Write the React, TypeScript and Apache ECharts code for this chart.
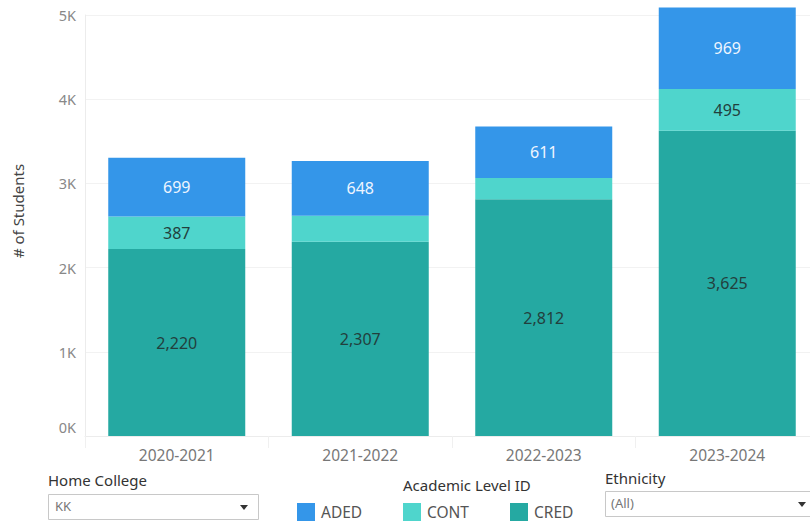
import React, { useEffect, useRef } from "react";
import * as echarts from "echarts";

const categories = ["2020-2021", "2021-2022", "2022-2023", "2023-2024"];
const credValues = [2220, 2307, 2812, 3625];
const contValues = [387, 310, 253, 495];
const adedValues = [699, 648, 611, 969];
const contLabelShown = [true, false, false, true];
const yTicks = [0, 1000, 2000, 3000, 4000, 5000];

const FONT = "'Noto Sans', 'Open Sans', sans-serif";
const fmt = (v: number) => v.toLocaleString("en-US");

export default function App() {
  const ref = useRef<HTMLDivElement>(null);
  useEffect(() => {
    if (!ref.current) return;
    const chart = echarts.init(ref.current, null, { renderer: "svg" });
    const legendItem = (name: string, left: number) => ({
      data: [name],
      left,
      top: 503,
      padding: 0,
      itemWidth: 18,
      itemHeight: 18,
      itemGap: 6,
      icon: "rect",
      selectedMode: false,
      textStyle: { fontFamily: FONT, fontSize: 15.5, color: "#555", padding: [0, 0, 0, 1] },
    });
    const darkLabel = "#223f3d";
    chart.setOption({
      animation: false,
      backgroundColor: "#ffffff",
      textStyle: { fontFamily: FONT },
      grid: { left: 85, top: 15, width: 734, height: 421, containLabel: false },
      legend: [legendItem("ADED", 297), legendItem("CONT", 403), legendItem("CRED", 510)],
      xAxis: {
        type: "category",
        data: categories,
        axisLine: { show: true, lineStyle: { color: "#ececec" } },
        axisTick: { show: true, length: 12, lineStyle: { color: "#f0f0f0" } },
        axisLabel: { fontFamily: FONT, fontSize: 15.5, color: "#777", margin: 11 },
      },
      yAxis: {
        type: "value",
        min: 0,
        max: 5000,
        interval: 1000,
        axisLine: { show: true, lineStyle: { color: "#ececec" } },
        axisTick: { show: false },
        splitLine: { show: true, lineStyle: { color: "#f2f2f2" } },
        axisLabel: {
          fontFamily: FONT,
          fontSize: 14.5,
          color: "#888",
          margin: 9,
          formatter: (v: number) =>
            v === yTicks[0] ? "{z|" + v / 1000 + "K}" : v / 1000 + "K",
          rich: { z: { fontFamily: FONT, fontSize: 14.5, color: "#888", padding: [0, 0, 18, 0] } },
        },
      },
      series: [
        {
          name: "CRED",
          type: "bar",
          stack: "s",
          barWidth: 137,
          clip: false,
          itemStyle: { color: "#25a9a2" },
          label: {
            show: true,
            position: "inside",
            fontFamily: FONT,
            fontSize: 16,
            color: darkLabel,
            formatter: (p: any) => fmt(p.value),
          },
          data: credValues,
        },
        {
          name: "CONT",
          type: "bar",
          stack: "s",
          barWidth: 137,
          clip: false,
          itemStyle: { color: "#4fd5cc" },
          label: {
            position: "inside",
            fontFamily: FONT,
            fontSize: 16,
            color: darkLabel,
            formatter: (p: any) => fmt(p.value),
          },
          data: contValues.map((v, i) => ({ value: v, label: { show: contLabelShown[i] } })),
        },
        {
          name: "ADED",
          type: "bar",
          stack: "s",
          barWidth: 137,
          clip: false,
          itemStyle: { color: "#3496e9" },
          label: {
            show: true,
            position: "inside",
            fontFamily: FONT,
            fontSize: 16,
            color: "#eef5ff",
            formatter: (p: any) => fmt(p.value),
          },
          data: adedValues,
        },
      ],
      graphic: [
        {
          type: "text",
          x: 18,
          y: 211,
          rotation: Math.PI / 2,
          style: {
            text: "# of Students",
            fontFamily: FONT,
            fontSize: 15,
            fill: "#444",
            align: "center",
            verticalAlign: "middle",
          },
        },
        { type: "text", left: 48, top: 472, style: { text: "Home College", fontFamily: FONT, fontSize: 15, fill: "#333" } },
        { type: "rect", shape: { x: 48.5, y: 494.5, width: 210, height: 25 }, style: { fill: "#fff", stroke: "#c8c8c8", lineWidth: 1 } },
        { type: "text", left: 55, top: 499, style: { text: "KK", fontFamily: FONT, fontSize: 13, fill: "#777" } },
        { type: "polygon", shape: { points: [[240, 505], [248, 505], [244, 510]] }, style: { fill: "#333" } },
        { type: "text", left: 403, top: 477, style: { text: "Academic Level ID", fontFamily: FONT, fontSize: 15, fill: "#333" } },
        { type: "text", left: 605, top: 470, style: { text: "Ethnicity", fontFamily: FONT, fontSize: 15, fill: "#333" } },
        { type: "rect", shape: { x: 605.5, y: 491.5, width: 210, height: 25 }, style: { fill: "#fff", stroke: "#c8c8c8", lineWidth: 1 } },
        { type: "text", left: 611, top: 496, style: { text: "(All)", fontFamily: FONT, fontSize: 13, fill: "#777" } },
        { type: "polygon", shape: { points: [[798, 502], [806, 502], [802, 507]] }, style: { fill: "#333" } },
      ],
    });
    return () => chart.dispose();
  }, []);
  return (
    <div
      style={{ position: "fixed", left: 0, top: 0, width: 810, height: 523, overflow: "hidden", background: "#fff" }}
    >
      <div ref={ref} style={{ width: 830, height: 523 }} />
    </div>
  );
}
